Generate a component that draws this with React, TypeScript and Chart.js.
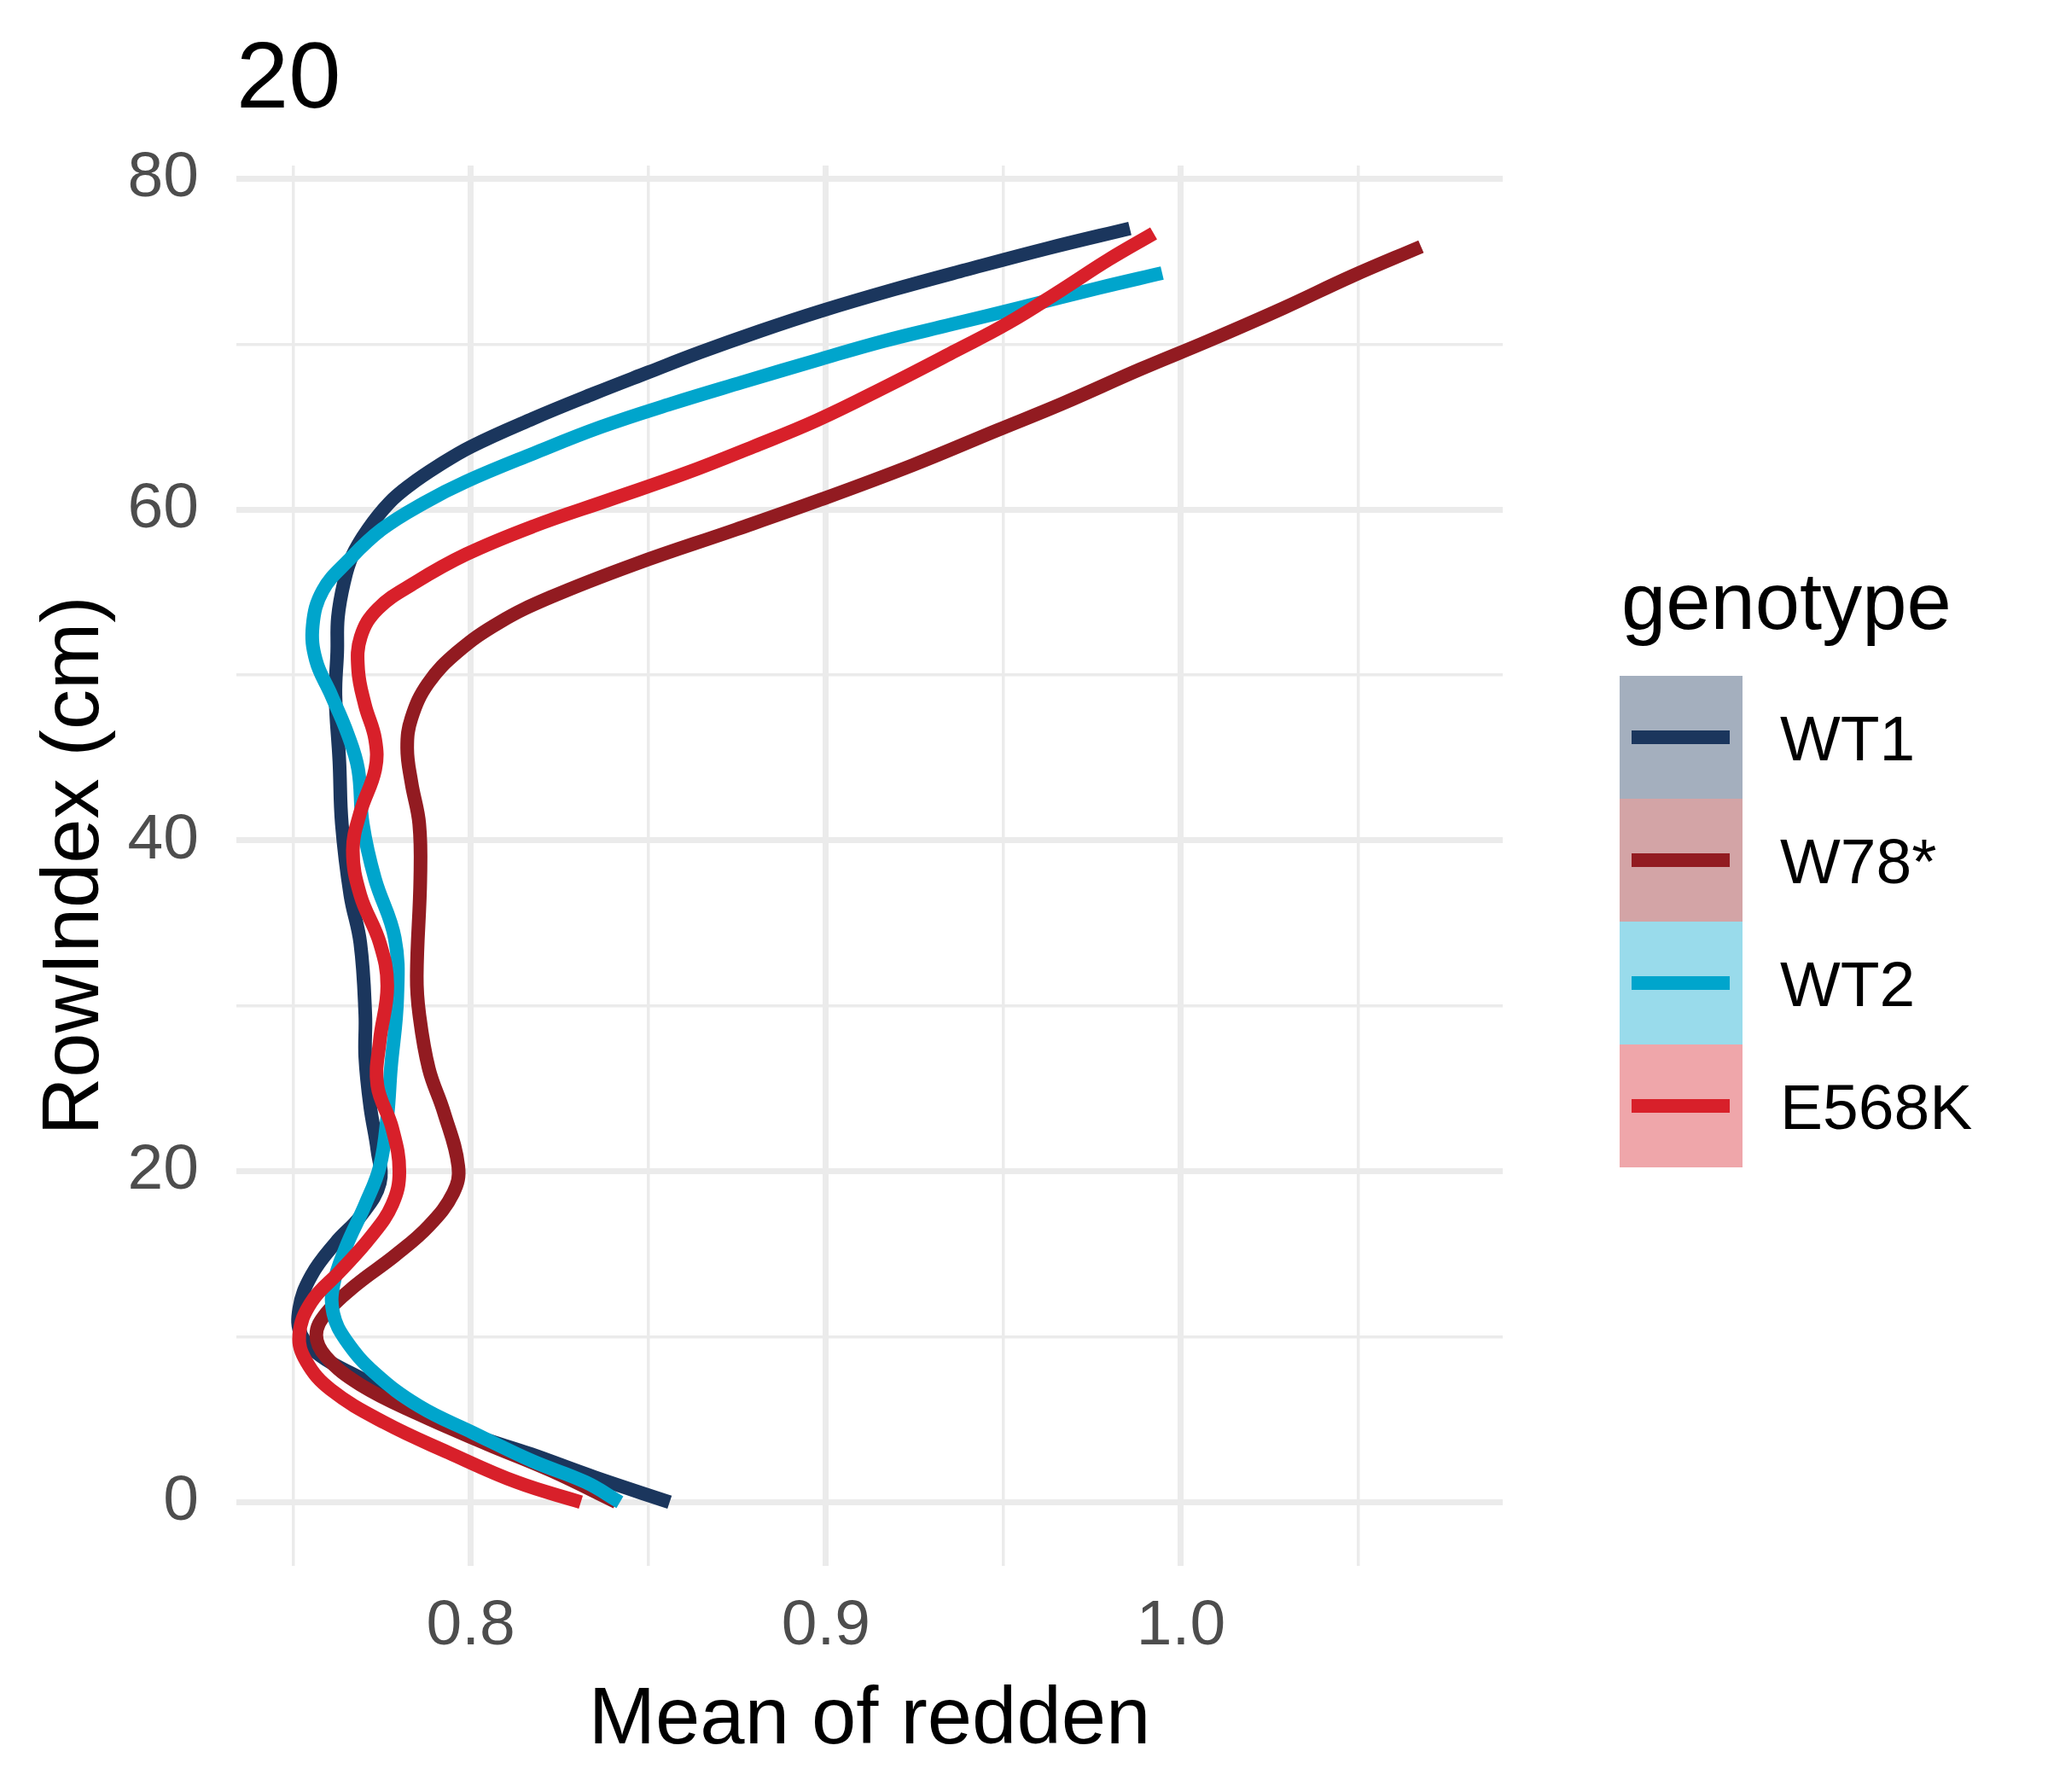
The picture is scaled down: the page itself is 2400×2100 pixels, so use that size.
import React, { useEffect, useRef } from "react";
import { Chart, registerables } from "chart.js";

Chart.register(...registerables);

const genotypes = ["WT1", "W78*", "WT2", "E568K"];
const lineColors = ["#1B365D", "#921B21", "#00A5CC", "#D8202A"];
const keyFills = ["rgba(27,54,93,0.4)", "rgba(146,27,33,0.4)", "rgba(0,165,204,0.4)", "rgba(216,32,42,0.4)"];

const wt1Y = [0, 1.5, 2.9, 4.2, 5.8, 7.5, 8.8, 10.1, 11.7, 13.7, 15.7, 17.3, 19.3, 21.3, 23.9, 26.9, 29.5, 33.8, 36.7, 41.0, 44.8, 48.8, 51.4, 53.5, 55.6, 57.2, 58.8, 60.4, 61.5, 62.6, 63.8, 65.5, 67.0, 68.3, 69.5, 70.8, 72.0, 73.3, 74.5, 75.8, 77.0];
const wt1X = [0.856, 0.835, 0.817, 0.799, 0.783, 0.769, 0.758, 0.7523, 0.7517, 0.7551, 0.762, 0.769, 0.7744, 0.7737, 0.7717, 0.7703, 0.7703, 0.7689, 0.7661, 0.7637, 0.763, 0.7619, 0.7624, 0.7626, 0.7643, 0.7666, 0.771, 0.777, 0.783, 0.7905, 0.800, 0.8175, 0.8345, 0.850, 0.8645, 0.8815, 0.8985, 0.919, 0.9395, 0.9625, 0.9856];

const w78Y = [0, 1.9, 3.5, 5.3, 7.1, 8.8, 10.1, 11.4, 13.1, 14.9, 16.7, 18.7, 20.3, 23.6, 26.2, 29.5, 31.8, 37.7, 41.0, 43.5, 45.6, 47.4, 49.5, 51.4, 53.2, 54.7, 56.7, 58.8, 60.6, 62.7, 64.8, 66.4, 68.5, 70.2, 72.2, 74.1, 75.9];
const w78X = [0.841, 0.8227, 0.8048, 0.7855, 0.7689, 0.7592, 0.7565, 0.7592, 0.7675, 0.7786, 0.7882, 0.7951, 0.7965, 0.7924, 0.7882, 0.7855, 0.7848, 0.7858, 0.7855, 0.7833, 0.7821, 0.7833, 0.788, 0.7963, 0.8082, 0.8224, 0.8462, 0.8747, 0.8985, 0.9246, 0.9483, 0.9665, 0.9887, 1.0077, 1.029, 1.048, 1.0676];

const wt2Y = [0, 1.2, 2.5, 4.2, 5.8, 7.8, 9.8, 11.4, 13.1, 15.4, 18.0, 20.3, 23.3, 26.2, 30.5, 34.1, 37.7, 41.0, 44.3, 46.4, 48.8, 50.9, 53.0, 55.1, 56.9, 58.8, 60.4, 61.7, 63.4, 65.0, 66.4, 67.7, 69.1, 70.2, 71.2, 72.2, 73.4, 74.3];
const wt2X = [0.842, 0.8324, 0.8172, 0.8006, 0.7855, 0.773, 0.7648, 0.7613, 0.7613, 0.7648, 0.7703, 0.7744, 0.7765, 0.7775, 0.7793, 0.7786, 0.773, 0.7696, 0.7683, 0.7654, 0.7607, 0.7564, 0.7555, 0.7583, 0.7654, 0.7749, 0.7868, 0.7987, 0.8177, 0.8367, 0.8565, 0.8765, 0.8985, 0.9165, 0.9355, 0.9545, 0.9768, 0.9947];

const e568kY = [0, 1.2, 3.0, 4.8, 6.8, 8.5, 10.1, 12.1, 14.0, 16.0, 18.0, 20.0, 22.6, 25.2, 27.9, 31.2, 33.8, 36.7, 39.4, 41.7, 44.3, 46.1, 48.2, 50.3, 52.3, 54.0, 55.6, 57.3, 59.0, 60.6, 62.2, 63.8, 65.4, 67.5, 69.6, 71.3, 73.3, 75.1, 76.7];
const e568kX = [0.831, 0.8131, 0.7937, 0.7758, 0.7606, 0.7537, 0.7517, 0.7551, 0.7634, 0.7717, 0.7779, 0.7799, 0.7779, 0.7737, 0.7744, 0.7765, 0.7744, 0.7689, 0.7668, 0.7689, 0.7731, 0.7731, 0.7702, 0.7683, 0.769, 0.7738, 0.7844, 0.7987, 0.8177, 0.8391, 0.8605, 0.8795, 0.8975, 0.9175, 0.9365, 0.9515, 0.9665, 0.9795, 0.9923];

const xTicks = [0.75, 0.8, 0.85, 0.9, 0.95, 1.0, 1.05];
const xTickLabels = ["", "0.8", "", "0.9", "", "1.0", ""];
const yTicks = [0, 10, 20, 30, 40, 50, 60, 70, 80];
const yTickLabels = ["0", "", "20", "", "40", "", "60", "", "80"];

const titleText = "20";
const xTitle = "Mean of redden";
const yTitle = "RowIndex (cm)";
const legendTitle = "genotype";

const FONT = "'Liberation Sans', Arial, Helvetica, sans-serif";

const seriesX = [wt1X, w78X, wt2X, e568kX];
const seriesY = [wt1Y, w78Y, wt2Y, e568kY];

const decorPlugin = {
  id: "decor",
  afterDraw(chart: any) {
    const ctx = chart.ctx;
    const area = chart.chartArea;
    ctx.save();
    ctx.fillStyle = "#000000";
    ctx.font = `110px ${FONT}`;
    ctx.textAlign = "left";
    ctx.textBaseline = "alphabetic";
    ctx.fillText(titleText, area.left, 126);
    ctx.font = `94px ${FONT}`;
    ctx.textAlign = "center";
    ctx.fillText(xTitle, (area.left + area.right) / 2, 2043);
    ctx.save();
    ctx.translate(115, (area.top + area.bottom) / 2);
    ctx.rotate(-Math.PI / 2);
    ctx.textAlign = "center";
    ctx.fillText(yTitle, 0, 0);
    ctx.restore();
    ctx.textAlign = "left";
    ctx.font = `94px ${FONT}`;
    ctx.fillText(legendTitle, 1900, 737);
    const keyX = 1898;
    const keyW = 144;
    const keyTop = 792;
    genotypes.forEach((g, i) => {
      const top = keyTop + i * keyW;
      ctx.fillStyle = keyFills[i];
      ctx.fillRect(keyX, top, keyW, keyW);
      ctx.strokeStyle = lineColors[i];
      ctx.lineWidth = 16;
      ctx.lineCap = "butt";
      ctx.beginPath();
      ctx.moveTo(1912, top + keyW / 2);
      ctx.lineTo(2027, top + keyW / 2);
      ctx.stroke();
      ctx.fillStyle = "#000000";
      ctx.font = `75px ${FONT}`;
      ctx.fillText(g, 2086, top + keyW / 2 + 27);
    });
    ctx.restore();
  },
};

export default function App() {
  const ref = useRef<HTMLCanvasElement | null>(null);
  useEffect(() => {
    if (!ref.current) return;
    const datasets = genotypes.map((g, i) => ({
      label: g,
      data: seriesX[i].map((x, j) => ({ x, y: seriesY[i][j] })),
      showLine: true,
      borderColor: lineColors[i],
      backgroundColor: lineColors[i],
      borderWidth: 16,
      borderJoinStyle: "round" as const,
      borderCapStyle: "butt" as const,
      pointRadius: 0,
      tension: 0.4,
      order: 4 - i,
    }));
    const chart = new Chart(ref.current, {
      type: "scatter",
      data: { datasets },
      plugins: [decorPlugin],
      options: {
        animation: false,
        responsive: false,
        devicePixelRatio: 1,
        layout: { padding: { top: 194, right: 639, bottom: 0, left: 0 } },
        plugins: { legend: { display: false }, tooltip: { enabled: false }, title: { display: false } },
        scales: {
          x: {
            type: "linear",
            min: 0.734,
            max: 1.0906,
            afterFit: (scale: any) => { scale.height = 265; },
            afterBuildTicks: (scale: any) => { scale.ticks = xTicks.map((v) => ({ value: v })); },
            border: { display: false },
            grid: {
              color: "#EBEBEB",
              drawTicks: false,
              lineWidth: (c: any) => (xTickLabels[c.index] ? 7 : 3.5),
            },
            ticks: {
              autoSkip: false,
              maxRotation: 0,
              padding: 26,
              color: "#4D4D4D",
              font: { family: FONT, size: 75 },
              callback: (_v: any, i: number) => xTickLabels[i],
            },
          },
          y: {
            type: "linear",
            min: -3.85,
            max: 80.8,
            afterFit: (scale: any) => { scale.width = 277; },
            afterBuildTicks: (scale: any) => { scale.ticks = yTicks.map((v) => ({ value: v })); },
            border: { display: false },
            grid: {
              color: "#EBEBEB",
              drawTicks: false,
              lineWidth: (c: any) => (yTickLabels[c.index] ? 7 : 3.5),
            },
            ticks: {
              autoSkip: false,
              padding: 44,
              color: "#4D4D4D",
              font: { family: FONT, size: 75 },
              callback: (_v: any, i: number) => yTickLabels[i],
            },
          },
        },
      },
    } as any);
    return () => chart.destroy();
  }, []);
  return (
    <div style={{ position: "absolute", left: 0, top: 0, width: 2400, height: 2100, background: "#ffffff" }}>
      <canvas ref={ref} width={2400} height={2100} style={{ width: 2400, height: 2100 }} />
    </div>
  );
}
